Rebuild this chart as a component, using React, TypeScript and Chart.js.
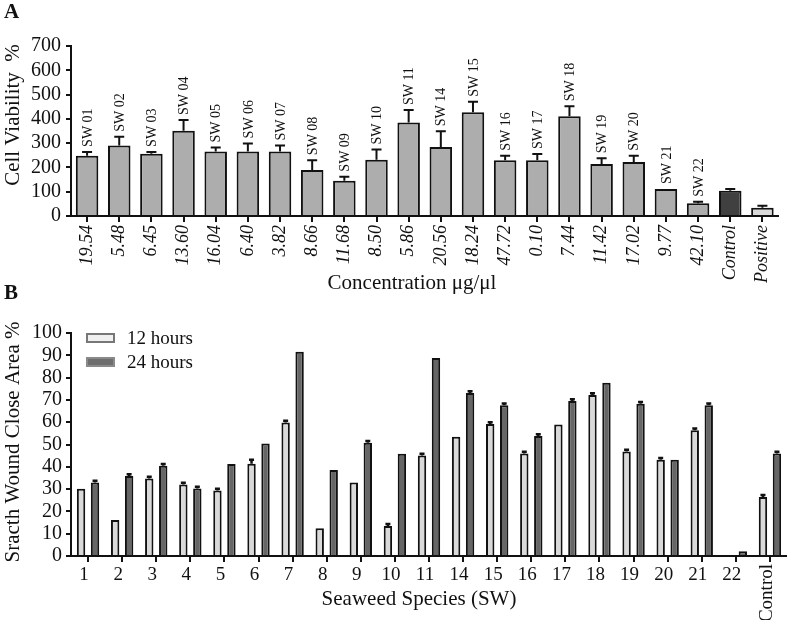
import React, { useEffect, useRef } from 'react';
import { Chart, registerables } from 'chart.js';

Chart.register(...registerables);

const SERIF = '"Liberation Serif", "Times New Roman", serif';

// ---------- Panel A data ----------
const aSampleLabels = ['SW 01', 'SW 02', 'SW 03', 'SW 04', 'SW 05', 'SW 06', 'SW 07', 'SW 08', 'SW 09', 'SW 10', 'SW 11', 'SW 14', 'SW 15', 'SW 16', 'SW 17', 'SW 18', 'SW 19', 'SW 20', 'SW 21', 'SW 22', '', ''];
const aConcentrations = ['19.54', '5.48', '6.45', '13.60', '16.04', '6.40', '3.82', '8.66', '11.68', '8.50', '5.86', '20.56', '18.24', '47.72', '0.10', '7.44', '11.42', '17.02', '9.77', '42.10', 'Control', 'Positive'];
const aViability = [248, 290, 256, 351, 266, 266, 266, 189, 145, 232, 385, 284, 427, 230, 230, 411, 214, 222, 111, 52, 104, 34];
const aViabilityErr = [16, 36, 8, 44, 16, 33, 24, 41, 17, 42, 51, 65, 43, 18, 25, 41, 24, 26, 0, 7, 7, 8];
const aBarColors = ['#adadad', '#adadad', '#adadad', '#adadad', '#adadad', '#adadad', '#adadad', '#adadad', '#adadad', '#adadad', '#adadad', '#adadad', '#adadad', '#adadad', '#adadad', '#adadad', '#adadad', '#adadad', '#adadad', '#adadad', '#404040', '#d9d9d9'];
const aYMax = 700;
const aYStep = 100;
const aYTitle = 'Cell Viability  %';
const aXTitle = 'Concentration \u03bcg/\u03bcl';

// ---------- Panel B data ----------
const bSpecies = ['1', '2', '3', '4', '5', '6', '7', '8', '9', '10', '11', '14', '15', '16', '17', '18', '19', '20', '21', '22', 'Control'];
const bSeriesNames = ['12 hours', '24 hours'];
const b12h = [30.2, 16.1, 34.8, 32.1, 29.4, 41.4, 59.9, 12.4, 33.0, 13.5, 45.1, 53.5, 59.2, 46.0, 59.0, 72.2, 46.9, 43.2, 56.4, 0, 26.5];
const b12hErr = [0, 0, 0.7, 0.7, 0.8, 1.8, 0.8, 0, 0, 0.8, 0.7, 0, 0.8, 0.7, 0, 0.8, 0.8, 0.7, 0.8, 0, 0.8];
const b24h = [33.0, 35.9, 40.5, 30.3, 41.3, 50.5, 91.6, 38.6, 50.8, 45.9, 88.8, 73.1, 67.6, 53.8, 69.5, 77.7, 68.3, 43.2, 67.6, 2.1, 46.0];
const b24hErr = [0.8, 0.8, 0.8, 0.7, 0, 0, 0, 0, 0.8, 0, 0, 0.8, 0.8, 0.8, 0.8, 0, 0.8, 0, 0.8, 0, 0.8];
const bYMax = 100;
const bYStep = 10;
const bYTitle = 'Sracth Wound Close Area %';
const bXTitle = 'Seaweed Species (SW)';

const B_TOP = 280;

const errorBarPlugin = {
  id: 'errorBars',
  afterDatasetsDraw(chart: any, _args: any, opts: any) {
    const ctx = chart.ctx;
    const yScale = chart.scales.y;
    chart.data.datasets.forEach((ds: any, di: number) => {
      const errs = ds.errors;
      if (!errs) return;
      const meta = chart.getDatasetMeta(di);
      meta.data.forEach((bar: any, i: number) => {
        const e = errs[i];
        if (!e) return;
        const v = ds.data[i];
        const top = yScale.getPixelForValue(v + e);
        ctx.save();
        ctx.strokeStyle = '#111';
        ctx.lineWidth = opts.lineWidth || 2;
        ctx.beginPath();
        ctx.moveTo(bar.x, bar.y);
        ctx.lineTo(bar.x, top);
        ctx.moveTo(bar.x - opts.cap / 2, top);
        ctx.lineTo(bar.x + opts.cap / 2, top);
        ctx.stroke();
        ctx.restore();
      });
    });
  },
};

function rotatedText(ctx: CanvasRenderingContext2D, text: string, x: number, y: number, font: string, align: CanvasTextAlign) {
  ctx.save();
  ctx.translate(x, y);
  ctx.rotate(-Math.PI / 2);
  ctx.font = font;
  ctx.fillStyle = '#111';
  ctx.textAlign = align;
  ctx.textBaseline = 'middle';
  ctx.fillText(text, 0, 0);
  ctx.restore();
}

const panelATextPlugin = {
  id: 'panelAText',
  afterDraw(chart: any) {
    const ctx = chart.ctx as CanvasRenderingContext2D;
    const yScale = chart.scales.y;
    ctx.save();
    ctx.fillStyle = '#111';
    ctx.font = `bold 21px ${SERIF}`;
    ctx.textAlign = 'left';
    ctx.textBaseline = 'middle';
    ctx.fillText('A', 4, 13);
    ctx.font = `21px ${SERIF}`;
    ctx.textAlign = 'center';
    ctx.fillText(aXTitle, 412, 283);
    ctx.restore();
    rotatedText(ctx, aYTitle, 13, 115, `21px ${SERIF}`, 'center');
    const meta = chart.getDatasetMeta(0);
    meta.data.forEach((bar: any, i: number) => {
      const lbl = aSampleLabels[i];
      if (!lbl) return;
      const top = yScale.getPixelForValue(aViability[i] + aViabilityErr[i]);
      rotatedText(ctx, lbl, bar.x + 1, top - 5, `14px ${SERIF}`, 'left');
    });
  },
};

const panelBTextPlugin = {
  id: 'panelBText',
  afterDraw(chart: any) {
    const ctx = chart.ctx as CanvasRenderingContext2D;
    const xScale = chart.scales.x;
    const off = 290 - B_TOP;
    ctx.save();
    ctx.fillStyle = '#111';
    ctx.font = `bold 21px ${SERIF}`;
    ctx.textAlign = 'left';
    ctx.textBaseline = 'middle';
    ctx.fillText('B', 4, off + 4);
    ctx.font = `21px ${SERIF}`;
    ctx.textAlign = 'center';
    ctx.fillText(bXTitle, 419, off + 309);
    // legend
    const ds = chart.data.datasets;
    const rows = [off + 48, off + 72];
    ds.forEach((d: any, i: number) => {
      const cy = rows[i];
      ctx.fillStyle = d.legendFill;
      ctx.strokeStyle = d.legendStroke;
      ctx.lineWidth = 2;
      ctx.fillRect(87, cy - 4, 27, 8);
      ctx.strokeRect(87, cy - 4, 27, 8);
      ctx.fillStyle = '#111';
      ctx.font = `19px ${SERIF}`;
      ctx.textAlign = 'left';
      ctx.textBaseline = 'middle';
      ctx.fillText(d.label, 127, cy + 1);
    });
    ctx.restore();
    const last = bSpecies.length - 1;
    const cx = xScale.getPixelForValue(last);
    rotatedText(ctx, bSpecies[last], cx - 3, chart.chartArea.bottom + 8, `19px ${SERIF}`, 'right');
    rotatedText(ctx, bYTitle, 13, off + 152, `21px ${SERIF}`, 'center');
  },
};

function PanelA() {
  const ref = useRef<HTMLCanvasElement>(null);
  useEffect(() => {
    const chart = new Chart(ref.current as HTMLCanvasElement, {
      type: 'bar',
      data: {
        labels: aConcentrations,
        datasets: [
          {
            label: 'Cell viability',
            data: aViability,
            errors: aViabilityErr,
            backgroundColor: aBarColors,
            borderColor: '#111',
            borderWidth: 2,
            barPercentage: 0.7,
            categoryPercentage: 1,
          } as any,
        ],
      },
      options: {
        animation: false,
        responsive: false,
        layout: { padding: { top: 46, left: 0, right: 0, bottom: 0 } },
        plugins: {
          legend: { display: false },
          tooltip: { enabled: false },
          errorBars: { cap: 10, lineWidth: 2 },
        } as any,
        scales: {
          x: {
            offset: true,
            afterFit: (s: any) => { s.height = 84; },
            grid: { display: true, drawOnChartArea: false, drawTicks: true, tickLength: 6, color: '#111', lineWidth: 2, offset: false },
            border: { display: true, color: '#111', width: 2 },
            ticks: {
              autoSkip: false,
              minRotation: 90,
              maxRotation: 90,
              padding: 3,
              color: '#111',
              font: { family: SERIF, size: 18, style: 'italic' },
            },
          },
          y: {
            min: 0,
            max: aYMax,
            afterFit: (s: any) => { s.width = 71; },
            grid: { display: true, drawOnChartArea: false, drawTicks: true, tickLength: 5, color: '#111', lineWidth: 2 },
            border: { display: true, color: '#111', width: 2 },
            ticks: {
              stepSize: aYStep,
              autoSkip: false,
              padding: 5,
              color: '#111',
              font: { family: SERIF, size: 20 },
            },
          },
        },
      },
      plugins: [errorBarPlugin, panelATextPlugin],
    });
    return () => chart.destroy();
  }, []);
  return <canvas ref={ref} width={787} height={300} style={{ position: 'absolute', left: 0, top: 0, display: 'block' }} />;
}

function PanelB() {
  const ref = useRef<HTMLCanvasElement>(null);
  useEffect(() => {
    const off = 290 - B_TOP;
    const chart = new Chart(ref.current as HTMLCanvasElement, {
      type: 'bar',
      data: {
        labels: bSpecies,
        datasets: [
          {
            label: bSeriesNames[0],
            data: b12h,
            errors: b12hErr,
            backgroundColor: '#d9d9d9',
            borderColor: '#111',
            borderWidth: 2,
            legendFill: '#f0f0f0',
            legendStroke: '#777',
          } as any,
          {
            label: bSeriesNames[1],
            data: b24h,
            errors: b24hErr,
            backgroundColor: '#666666',
            borderColor: '#111',
            borderWidth: 2,
            legendFill: '#6e6e6e',
            legendStroke: '#8a8a8a',
          } as any,
        ],
      },
      options: {
        animation: false,
        responsive: false,
        datasets: { bar: { barPercentage: 0.6, categoryPercentage: 0.82 } },
        layout: { padding: { top: 43 + off, left: 0, right: 0, bottom: 0 } },
        plugins: {
          legend: { display: false },
          tooltip: { enabled: false },
          errorBars: { cap: 5, lineWidth: 2.5 },
        } as any,
        scales: {
          x: {
            offset: true,
            afterFit: (s: any) => { s.height = 64; },
            grid: { display: true, drawOnChartArea: false, drawTicks: true, tickLength: 6, color: '#111', lineWidth: 2, offset: false },
            border: { display: true, color: '#111', width: 2 },
            ticks: {
              autoSkip: false,
              maxRotation: 0,
              minRotation: 0,
              padding: 2,
              labelOffset: -4,
              color: '#111',
              font: { family: SERIF, size: 19 },
              callback: (_v: any, i: number) => (i === bSpecies.length - 1 ? '' : bSpecies[i]),
            },
          },
          y: {
            min: 0,
            max: bYMax,
            afterFit: (s: any) => { s.width = 71; },
            grid: { display: true, drawOnChartArea: false, drawTicks: true, tickLength: 5, color: '#111', lineWidth: 2 },
            border: { display: true, color: '#111', width: 2 },
            ticks: {
              stepSize: bYStep,
              autoSkip: false,
              padding: 4,
              color: '#111',
              font: { family: SERIF, size: 20 },
            },
          },
        },
      },
      plugins: [errorBarPlugin, panelBTextPlugin],
    });
    return () => chart.destroy();
  }, []);
  return <canvas ref={ref} width={787} height={620 - B_TOP} style={{ position: 'absolute', left: 0, top: B_TOP, display: 'block' }} />;
}

export default function App() {
  return (
    <div style={{ position: 'absolute', left: 0, top: 0, width: 787, height: 620, background: '#fff', overflow: 'hidden' }}>
      <PanelA />
      <PanelB />
    </div>
  );
}
